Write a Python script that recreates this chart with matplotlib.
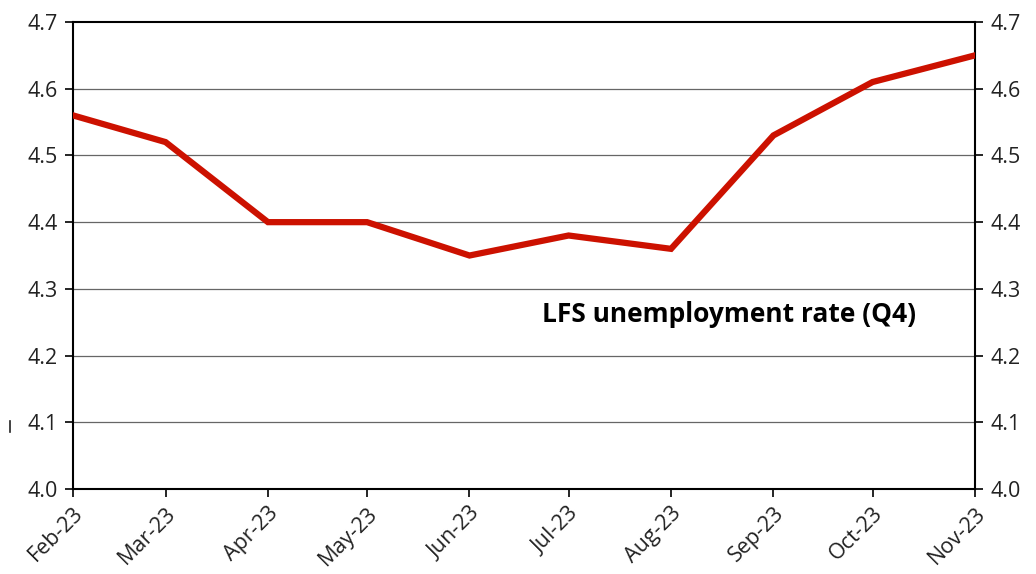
import matplotlib
matplotlib.use("Agg")
import matplotlib.pyplot as plt
from matplotlib.lines import Line2D
from datetime import date

plt.rcParams['font.family'] = ['Open Sans', 'DejaVu Sans']

# data
months = [date(2023, m, 1) for m in range(2, 12)]
month_labels = ['Feb-23', 'Mar-23', 'Apr-23', 'May-23', 'Jun-23',
                'Jul-23', 'Aug-23', 'Sep-23', 'Oct-23', 'Nov-23']
lfs_rate = [4.56, 4.52, 4.40, 4.40, 4.35, 4.38, 4.36, 4.53, 4.61, 4.65]
y_ticks = [4.0, 4.1, 4.2, 4.3, 4.4, 4.5, 4.6, 4.7]

fig = plt.figure(figsize=(10.36, 5.74), dpi=100)
ax = fig.add_axes([0.0705, 0.148, 0.8706, 0.8137])

ax.plot(months, lfs_rate, color='#CC1100', lw=4.5, solid_joinstyle='miter', zorder=3)

ax.set_xlim(months[0], months[-1])
ax.set_ylim(4.0, 4.7)
ax.set_yticks(y_ticks)
ax.set_yticklabels([f'{v:.1f}' for v in y_ticks])
ax.set_xticks(months)
ax.set_xticklabels(month_labels, rotation=45, ha='right', rotation_mode='anchor')

# horizontal grid
for v in y_ticks[1:-1]:
    ax.axhline(v, color='#666666', lw=0.9, zorder=1)

for s in ['left', 'right', 'bottom', 'top']:
    ax.spines[s].set_color('black')
    ax.spines[s].set_linewidth(1.5)

ax.tick_params(axis='y', which='both', left=True, right=True, labelleft=True,
               labelright=True, direction='out', length=6, width=1.2,
               labelsize=15.5, pad=5, colors='black', labelcolor='#222222')
ax.tick_params(axis='x', direction='out', length=6, width=1.2, labelsize=15.5,
               pad=4, labelcolor='#222222')

ax.text(0.52, 0.373, 'LFS unemployment rate (Q4)', transform=ax.transAxes,
        fontsize=19, fontweight='bold', color='black', ha='left', va='center')

# small stray mark left of the axis
fig.add_artist(Line2D([0.0097, 0.0097], [0.248, 0.266], color='#222222', lw=1.2))

fig.savefig('out.png', dpi=100)
